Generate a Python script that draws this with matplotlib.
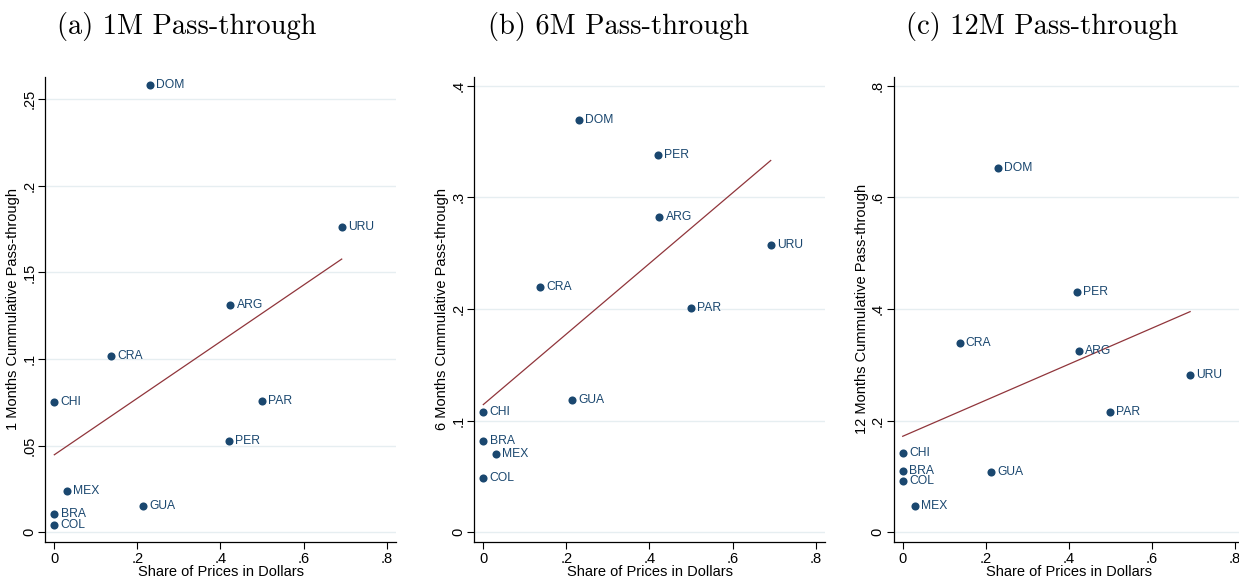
import matplotlib
matplotlib.use("Agg")
import matplotlib.pyplot as plt
import numpy as np

# country codes and share of prices set in dollars (same in all panels)
countries = ["DOM", "URU", "ARG", "CRA", "CHI", "PAR", "PER", "MEX", "GUA", "BRA", "COL"]
share_usd = [0.230, 0.692, 0.424, 0.137, 0.0, 0.499, 0.420, 0.030, 0.213, 0.0, 0.0]

# cumulative pass-through by horizon
pt_1m = [0.258, 0.176, 0.131, 0.102, 0.075, 0.0758, 0.053, 0.0237, 0.015, 0.0106, 0.0042]
pt_6m = [0.369, 0.2576, 0.282, 0.2194, 0.1075, 0.2006, 0.338, 0.0701, 0.1188, 0.0818, 0.049]
pt_12m = [0.6525, 0.2824, 0.3248, 0.3397, 0.142, 0.2155, 0.431, 0.047, 0.1087, 0.110, 0.0925]

titles = ["(a) 1M Pass-through", "(b) 6M Pass-through", "(c) 12M Pass-through"]
ylabels = ["1 Months Cummulative Pass-through",
           "6 Months Cummulative Pass-through",
           "12 Months Cummulative Pass-through"]
yticks = [[0, 0.05, 0.1, 0.15, 0.2, 0.25],
          [0, 0.1, 0.2, 0.3, 0.4],
          [0, 0.2, 0.4, 0.6, 0.8]]
ylims = [(-0.0054, 0.263), (-0.0084, 0.408), (-0.0167, 0.816)]
xticks = [0, 0.2, 0.4, 0.6, 0.8]

navy = "#1a476f"
maroon = "#90353b"
grid_col = "#e6eef1"

plt.rcParams["font.family"] = ["Liberation Sans", "DejaVu Sans"]


def stata_num(v):
    s = ("%g" % v)
    if s.startswith("0."):
        s = s[1:]
    return s


fig = plt.figure(figsize=(12.39, 5.79), dpi=100)

lefts = [45.3, 474.3, 893.7]
title_x = [187, 619, 1042]
W, H = 1239.0, 579.0

ys = [pt_1m, pt_6m, pt_12m]
x = np.array(share_usd)
for i in range(3):
    ax = fig.add_axes([lefts[i] / W, 37.3 / H, 350.4 / W, 465.0 / H])
    y = np.array(ys[i])

    for t in yticks[i]:
        ax.axhline(t, color=grid_col, lw=1.0, zorder=0)

    ax.scatter(x, y, s=34, color=navy, zorder=3, linewidths=0)
    for name, xv, yv in zip(countries, x, y):
        ax.annotate(name, (xv, yv), xytext=(4.5, 0), textcoords="offset points",
                    ha="left", va="center", fontsize=8.7, color=navy, zorder=4)

    # linear fit
    b, a = np.polyfit(x, y, 1)
    xf = np.array([x.min(), x.max()])
    ax.plot(xf, a + b * xf, color=maroon, lw=0.9, zorder=2)

    ax.set_xlim(-0.0217, 0.822)
    ax.set_ylim(*ylims[i])
    ax.set_xticks(xticks)
    ax.set_xticklabels([stata_num(v) for v in xticks])
    ax.set_yticks(yticks[i])
    ax.set_yticklabels([stata_num(v) for v in yticks[i]], rotation=90, va="center")
    ax.tick_params(direction="out", length=5, width=0.8, labelsize=10.5, pad=2.5)
    ax.tick_params(axis="y", pad=1.5)
    for sp in ["top", "right"]:
        ax.spines[sp].set_visible(False)
    for sp in ["left", "bottom"]:
        ax.spines[sp].set_linewidth(0.9)
    ax.set_xlabel("Share of Prices in Dollars", fontsize=10.5, labelpad=-1)
    ax.set_ylabel(ylabels[i], fontsize=10.5, labelpad=1.5)

    fig.text(title_x[i] / W, 1 - 34 / H, titles[i], family="cmr10",
             fontsize=20.5, ha="center", va="baseline")

fig.savefig("out.png", dpi=100, facecolor="white")
